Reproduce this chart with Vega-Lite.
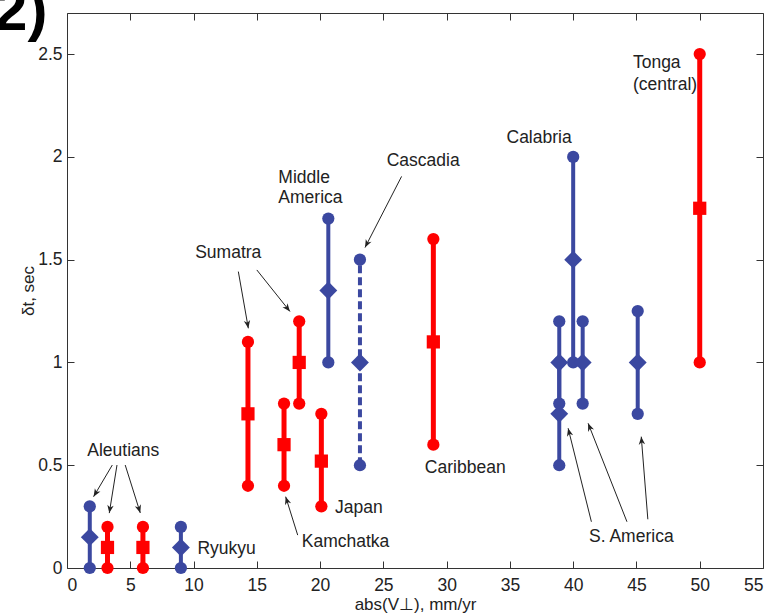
{
  "$schema": "https://vega.github.io/schema/vega-lite/v6.json",
  "width": 696,
  "height": 555,
  "autosize": {"type": "none"},
  "padding": {"left": 67, "top": 13, "right": 12, "bottom": 48},
  "background": "white",
  "config": {
    "font": "Liberation Sans",
    "view": {"stroke": null},
    "axis": {
      "grid": false,
      "domainColor": "#333",
      "tickColor": "#333",
      "labelColor": "#222",
      "titleColor": "#222",
      "labelFontSize": 17.5,
      "titleFontSize": 17,
      "titleFontWeight": "normal",
      "tickSize": -7,
      "labelPadding": 12,
      "format": "~g"
    }
  },
  "datasets": {
    "series": [
      {"region": "Aleutians", "x": 1.8, "lo": 0, "hi": 0.3, "mid": 0.15, "type": "blue", "line": "solid"},
      {"region": "Aleutians", "x": 3.2, "lo": 0, "hi": 0.2, "mid": 0.1, "type": "red", "line": "solid"},
      {"region": "Aleutians", "x": 6.0, "lo": 0, "hi": 0.2, "mid": 0.1, "type": "red", "line": "solid"},
      {"region": "Ryukyu", "x": 9.0, "lo": 0, "hi": 0.2, "mid": 0.1, "type": "blue", "line": "solid"},
      {"region": "Sumatra", "x": 14.3, "lo": 0.4, "hi": 1.1, "mid": 0.75, "type": "red", "line": "solid"},
      {"region": "Kamchatka", "x": 17.15, "lo": 0.4, "hi": 0.8, "mid": 0.6, "type": "red", "line": "solid"},
      {"region": "Sumatra", "x": 18.35, "lo": 0.8, "hi": 1.2, "mid": 1.0, "type": "red", "line": "solid"},
      {"region": "Japan", "x": 20.1, "lo": 0.3, "hi": 0.75, "mid": 0.52, "type": "red", "line": "solid"},
      {"region": "Middle America", "x": 20.65, "lo": 1.0, "hi": 1.7, "mid": 1.35, "type": "blue", "line": "solid"},
      {"region": "Cascadia", "x": 23.15, "lo": 0.5, "hi": 1.5, "mid": 1.0, "type": "blue", "line": "dashed"},
      {"region": "Caribbean", "x": 28.95, "lo": 0.6, "hi": 1.6, "mid": 1.1, "type": "red", "line": "solid"},
      {"region": "S. America", "x": 38.9, "lo": 0.5, "hi": 1.0, "mid": 0.75, "type": "blue", "line": "solid"},
      {"region": "S. America", "x": 38.9, "lo": 0.8, "hi": 1.2, "mid": 1.0, "type": "blue", "line": "solid"},
      {"region": "Calabria", "x": 40.0, "lo": 1.0, "hi": 2.0, "mid": 1.5, "type": "blue", "line": "solid"},
      {"region": "S. America", "x": 40.75, "lo": 0.8, "hi": 1.2, "mid": 1.0, "type": "blue", "line": "solid"},
      {"region": "S. America", "x": 45.1, "lo": 0.75, "hi": 1.25, "mid": 1.0, "type": "blue", "line": "solid"},
      {"region": "Tonga", "x": 50.0, "lo": 1.0, "hi": 2.5, "mid": 1.75, "type": "red", "line": "solid"}
    ],
    "arrows": [
      {"label": "Aleutians", "tx": 3.58, "ty": 0.501, "hx": 2.1, "hy": 0.347, "angle": 210.5},
      {"label": "Aleutians", "tx": 3.95, "ty": 0.501, "hx": 3.34, "hy": 0.267, "angle": 189},
      {"label": "Aleutians", "tx": 4.6, "ty": 0.501, "hx": 5.79, "hy": 0.268, "angle": 162.6},
      {"label": "Kamchatka", "tx": 18.23, "ty": 0.16, "hx": 17.28, "hy": 0.347, "angle": 342.6},
      {"label": "Sumatra", "tx": 13.54, "ty": 1.442, "hx": 14.33, "hy": 1.166, "angle": 170},
      {"label": "Sumatra", "tx": 15.0, "ty": 1.45, "hx": 17.62, "hy": 1.248, "angle": 141.4},
      {"label": "Cascadia", "tx": 26.44, "ty": 1.905, "hx": 23.55, "hy": 1.559, "angle": 207.1},
      {"label": "S. America", "tx": 41.44, "ty": 0.225, "hx": 39.6, "hy": 0.68, "angle": 345.9},
      {"label": "S. America", "tx": 44.25, "ty": 0.225, "hx": 41.18, "hy": 0.704, "angle": 338.4},
      {"label": "S. America", "tx": 45.9, "ty": 0.237, "hx": 45.38, "hy": 0.639, "angle": 355.4}
    ],
    "labels": [
      {"label": "Aleutians", "x": 1.6, "y": 0.57},
      {"label": "Ryukyu", "x": 10.31, "y": 0.0925},
      {"label": "Kamchatka", "x": 18.55, "y": 0.128},
      {"label": "Japan", "x": 21.18, "y": 0.291},
      {"label": "Sumatra", "x": 10.13, "y": 1.532},
      {"label": "Middle", "x": 16.7, "y": 1.897},
      {"label": "America", "x": 16.7, "y": 1.8},
      {"label": "Cascadia", "x": 25.26, "y": 1.978},
      {"label": "Caribbean", "x": 28.28, "y": 0.485},
      {"label": "S. America", "x": 41.25, "y": 0.152},
      {"label": "Calabria", "x": 34.73, "y": 2.092},
      {"label": "Tonga", "x": 44.72, "y": 2.457},
      {"label": "(central)", "x": 44.72, "y": 2.352}
    ],
    "panel": [
      {"label": "(2)", "x": -1.55, "y": 2.615}
    ]
  },
  "resolve": {"axis": {"x": "independent", "y": "independent"}},
  "layer": [
    {
      "data": {"name": "series"},
      "mark": {"type": "rule"},
      "encoding": {
        "x": {"field": "x", "type": "quantitative", "scale": {"domain": [0, 55], "nice": false},
              "axis": {"orient": "bottom", "values": [0,5,10,15,20,25,30,35,40,45,50,55], "title": "abs(V\u22a5), mm/yr", "titlePadding": 3, "labelPadding": 15}},
        "y": {"field": "lo", "type": "quantitative", "scale": {"domain": [0, 2.7], "nice": false},
              "axis": {"orient": "left", "values": [0,0.5,1,1.5,2,2.5], "title": "\u03b4t, sec", "titlePadding": 0}},
        "y2": {"field": "hi"},
        "color": {"field": "type", "type": "nominal", "scale": {"domain": ["blue", "red"], "range": ["#3b48a0", "#ff0000"]}, "legend": null},
        "strokeWidth": {"field": "type", "type": "nominal", "scale": {"domain": ["blue", "red"], "range": [4, 5]}, "legend": null},
        "strokeDash": {"field": "line", "type": "nominal", "scale": {"domain": ["solid", "dashed"], "range": [[1, 0], [8, 4]]}, "legend": null}
      }
    },
    {
      "data": {"name": "series"},
      "mark": {"type": "point", "filled": true, "shape": "circle", "size": 150, "opacity": 1},
      "encoding": {
        "x": {"field": "x", "type": "quantitative",
              "axis": {"orient": "top", "values": [0,5,10,15,20,25,30,35,40,45,50,55], "labels": false, "title": null}},
        "y": {"field": "lo", "type": "quantitative",
              "axis": {"orient": "right", "values": [0,0.5,1,1.5,2,2.5], "labels": false, "title": null}},
        "color": {"field": "type", "type": "nominal", "legend": null}
      }
    },
    {
      "data": {"name": "series"},
      "mark": {"type": "point", "filled": true, "shape": "circle", "size": 150, "opacity": 1},
      "encoding": {
        "x": {"field": "x", "type": "quantitative", "axis": null},
        "y": {"field": "hi", "type": "quantitative", "axis": null},
        "color": {"field": "type", "type": "nominal", "legend": null}
      }
    },
    {
      "data": {"name": "series"},
      "mark": {"type": "point", "filled": true, "opacity": 1},
      "encoding": {
        "x": {"field": "x", "type": "quantitative", "axis": null},
        "y": {"field": "mid", "type": "quantitative", "axis": null},
        "color": {"field": "type", "type": "nominal", "legend": null},
        "shape": {"field": "type", "type": "nominal", "scale": {"domain": ["blue", "red"], "range": ["diamond", "square"]}, "legend": null},
        "size": {"field": "type", "type": "nominal", "scale": {"domain": ["blue", "red"], "range": [320, 175]}, "legend": null}
      }
    },
    {
      "data": {"name": "arrows"},
      "mark": {"type": "rule", "color": "#222", "strokeWidth": 1},
      "encoding": {
        "x": {"field": "tx", "type": "quantitative", "axis": null},
        "y": {"field": "ty", "type": "quantitative", "axis": null},
        "x2": {"field": "hx"},
        "y2": {"field": "hy"}
      }
    },
    {
      "data": {"name": "arrows"},
      "mark": {"type": "point", "filled": true, "color": "#222", "opacity": 1, "size": 256, "shape": "M0,0L-0.4,1L0,0.7L0.4,1Z"},
      "encoding": {
        "x": {"field": "hx", "type": "quantitative", "axis": null},
        "y": {"field": "hy", "type": "quantitative", "axis": null},
        "angle": {"field": "angle", "type": "quantitative", "scale": null}
      }
    },
    {
      "data": {"name": "labels"},
      "mark": {"type": "text", "align": "left", "baseline": "middle", "fontSize": 17.5, "color": "#222"},
      "encoding": {
        "x": {"field": "x", "type": "quantitative", "axis": null},
        "y": {"field": "y", "type": "quantitative", "axis": null},
        "text": {"field": "label"}
      }
    },
    {
      "data": {"name": "panel"},
      "mark": {"type": "text", "align": "right", "baseline": "alphabetic", "fontSize": 60, "fontWeight": "bold", "color": "#000"},
      "encoding": {
        "x": {"field": "x", "type": "quantitative", "axis": null},
        "y": {"field": "y", "type": "quantitative", "axis": null},
        "text": {"field": "label"}
      }
    }
  ]
}
